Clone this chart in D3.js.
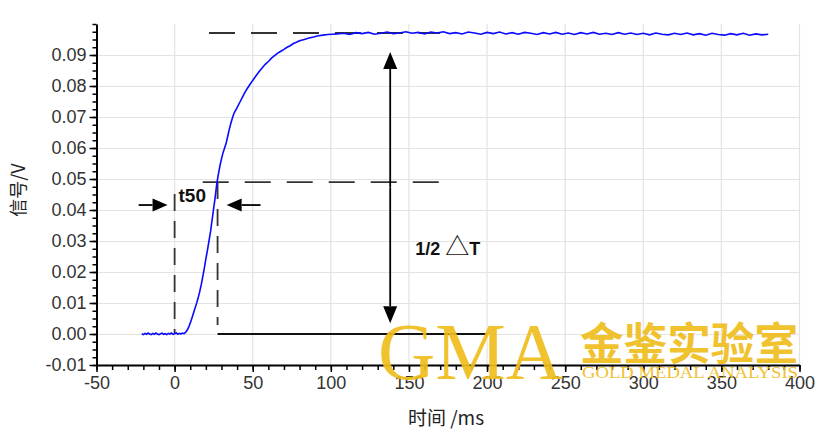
<!DOCTYPE html>
<html>
  <head>
    <meta charset="utf-8">
    <title>t50 response</title>
    <script src="https://cdn.jsdelivr.net/npm/d3@7"></script>
    <style type="text/css">
      body { margin: 0; background: #fff; }
      svg text { font-family: "Liberation Sans", Arial, sans-serif; }
    </style>
  </head>
  <body>
    <script>
    // size of the picture
    var width = 830;
    var height = 434;

    // time in ms and signal in V
    var times = [-21,-20,-19,-18,-17,-16,-15,-14,-13,-12,-11,-10,-9,-8,-7,-6,-5,-4,-3,-2,-1,0,1,2,3,4,5,6,7,
      8,9,10,11,12,13,14,15,16,17,18,19,20,21,22,23,24,25,26,27,28,29,30,31,32,33,34,35,36,37,38,
      40,42,44,46,48,50,52,54,56,58,60,62,64,66,68,70,72,74,76,78,80,83,86,89,92,95,98,101,
      104,108,112,116,120,124,128,132,136,140,144,148,152,156,160,164,168,172,176,180,184,188,192,196,
      200,204,208,212,216,220,224,228,232,236,240,244,248,252,256,260,264,268,272,276,280,284,288,292,296,
      300,304,308,312,316,320,324,328,332,336,340,344,348,352,356,360,364,368,372,376,380];
    var signal = [0.0001,-0.0002,0.0002,-0.0001,0.0003,0.0000,-0.0002,0.0002,-0.0001,0.0003,0.0000,-0.0002,0.0001,0.0003,-0.0001,0.0001,-0.0002,0.0002,0.0000,0.0003,-0.0001,0.0001,0.0004,-0.0001,0.0002,0.0000,0.0003,0.0001,0.0005,
      0.0012,0.0022,0.0035,0.0050,0.0066,0.0082,0.0098,0.0115,0.0135,0.0158,0.0184,0.0212,0.0242,0.0270,0.0300,0.0330,0.0368,0.0405,0.0442,0.0485,0.0515,0.0542,0.0565,0.0585,0.0600,0.0616,0.0638,0.0660,0.0680,0.0697,0.0712,
      0.0730,0.0750,0.0770,0.0788,0.0803,0.0818,0.0832,0.0846,0.0858,0.0870,0.0879,0.0890,0.0898,0.0906,0.0912,0.0918,0.0925,0.0930,0.0937,0.0941,0.0946,0.0950,0.0955,0.0958,0.0962,0.0964,0.0966,0.0967,
      0.0968,0.0970,0.0966,0.0972,0.0969,0.0973,0.0967,0.0970,0.0974,0.0969,0.0971,0.0975,0.0970,0.0973,0.0968,0.0974,0.0971,0.0975,0.0969,0.0972,0.0968,0.0974,0.0971,0.0967,
      0.0973,0.0969,0.0974,0.0968,0.0972,0.0967,0.0973,0.0970,0.0966,0.0972,0.0968,0.0973,0.0967,0.0971,0.0966,0.0972,0.0968,0.0973,0.0967,0.0970,0.0966,0.0972,0.0967,0.0971,0.0966,
      0.0970,0.0965,0.0971,0.0967,0.0965,0.0970,0.0966,0.0971,0.0965,0.0969,0.0964,0.0970,0.0966,0.0964,0.0969,0.0965,0.0970,0.0964,0.0968,0.0965,0.0967];

    // tick values
    var xTicks = [-50,0,50,100,150,200,250,300,350,400];
    var yTicks = [-0.01,0.00,0.01,0.02,0.03,0.04,0.05,0.06,0.07,0.08,0.09];

    // annotation values (data units)
    var plateauV = 0.0971;
    var halfV = 0.049;
    var t50Start = 0;
    var t50End = 27.5;
    var deltaT = 138;

    var xScale = d3.scaleLinear().domain([-50, 400]).range([96.5, 799.5]);
    var yScale = d3.scaleLinear().domain([-0.01, 0.10]).range([365, 24]);

    var svg = d3.select("body").append("svg")
      .attr("width", width)
      .attr("height", height);

    // grid
    svg.append("g").selectAll("line").data(xTicks.slice(1)).enter().append("line")
      .attr("x1", function(d){ return xScale(d); })
      .attr("x2", function(d){ return xScale(d); })
      .attr("y1", yScale(0.10)).attr("y2", yScale(-0.01))
      .attr("stroke", "#e3e3e3").attr("stroke-width", 1.2);
    svg.append("g").selectAll("line").data(yTicks.slice(1)).enter().append("line")
      .attr("x1", xScale(-50)).attr("x2", xScale(400))
      .attr("y1", function(d){ return Math.round(yScale(d)) + 0.5; })
      .attr("y2", function(d){ return Math.round(yScale(d)) + 0.5; })
      .attr("stroke", "#e3e3e3").attr("stroke-width", 1.2);

    // minor ticks
    var xMinor = d3.range(-50, 401, 10);
    var yMinor = d3.range(-0.01, 0.1001, 0.0025);
    svg.append("g")
      .attr("transform", "translate(0," + yScale(-0.01) + ")")
      .call(d3.axisBottom(xScale).tickValues(xMinor).tickSize(5).tickFormat(""))
      .call(function(g){ g.select(".domain").remove(); })
      .selectAll("line").attr("stroke-width", 1.5);
    svg.append("g")
      .attr("transform", "translate(" + xScale(-50) + ",0)")
      .call(d3.axisLeft(yScale).tickValues(yMinor).tickSize(4).tickFormat(""))
      .call(function(g){ g.select(".domain").remove(); })
      .selectAll("line").attr("stroke-width", 1.5);

    // main axes
    var xAxis = svg.append("g")
      .attr("transform", "translate(0," + yScale(-0.01) + ")")
      .call(d3.axisBottom(xScale).tickValues(xTicks).tickSize(7).tickSizeOuter(0).tickPadding(4));
    var yAxis = svg.append("g")
      .attr("transform", "translate(" + xScale(-50) + ",0)")
      .call(d3.axisLeft(yScale).tickValues(yTicks).tickSize(7).tickSizeOuter(0).tickPadding(3)
        .tickFormat(d3.format(".2f")));
    [xAxis, yAxis].forEach(function(a){
      a.select(".domain").attr("stroke", "#000").attr("stroke-width", 2);
      a.selectAll("line").attr("stroke-width", 1.5);
      a.selectAll("text").attr("font-size", 18).attr("fill", "#333")
        .attr("font-family", "Liberation Sans, Arial, sans-serif");
    });
    yAxis.selectAll("text").text(function(d){ return d3.format(".2f")(d).replace("−", "-"); });
    xAxis.selectAll("text").text(function(d){ return String(d); });

    // annotation lines
    var ann = svg.append("g").attr("stroke", "#333").attr("stroke-width", 1.8).attr("fill", "none");
    ann.append("line")
      .attr("x1", xScale(22)).attr("x2", xScale(170))
      .attr("y1", yScale(plateauV)).attr("y2", yScale(plateauV))
      .attr("stroke-dasharray", "26,16");
    ann.append("line")
      .attr("x1", xScale(18)).attr("x2", xScale(178))
      .attr("y1", yScale(halfV)).attr("y2", yScale(halfV))
      .attr("stroke-dasharray", "26,16");
    ann.append("line")
      .attr("x1", xScale(t50Start)).attr("x2", xScale(t50Start))
      .attr("y1", yScale(0.0452)).attr("y2", yScale(0.0003))
      .attr("stroke-dasharray", "17,10");
    ann.append("line")
      .attr("x1", xScale(t50End)).attr("x2", xScale(t50End))
      .attr("y1", yScale(halfV)).attr("y2", yScale(0.0029))
      .attr("stroke-dasharray", "17,10");
    ann.append("line")
      .attr("x1", xScale(t50End)).attr("x2", xScale(200))
      .attr("y1", yScale(0)).attr("y2", yScale(0))
      .attr("stroke", "#111").attr("stroke-width", 2);

    // arrows
    function arrow(x1, y1, x2, y2, len, half) {
      var ang = Math.atan2(y2 - y1, x2 - x1);
      var bx = x2 - len * Math.cos(ang), by = y2 - len * Math.sin(ang);
      svg.append("line").attr("x1", x1).attr("y1", y1).attr("x2", bx).attr("y2", by)
        .attr("stroke", "#000").attr("stroke-width", 1.8);
      svg.append("path")
        .attr("d", "M" + x2 + "," + y2 +
          "L" + (bx + half * Math.sin(ang)) + "," + (by - half * Math.cos(ang)) +
          "L" + (bx - half * Math.sin(ang)) + "," + (by + half * Math.cos(ang)) + "Z")
        .attr("fill", "#000");
    }
    var arrowV = 0.0416;
    arrow(xScale(-23), yScale(arrowV), xScale(-4.5), yScale(arrowV), 15, 6.5);
    arrow(xScale(55), yScale(arrowV), xScale(33.3), yScale(arrowV), 15, 6.5);
    var midY = (yScale(0.091) + yScale(0.0035)) / 2;
    arrow(xScale(deltaT), midY, xScale(deltaT), yScale(0.091), 17, 7);
    arrow(xScale(deltaT), midY, xScale(deltaT), yScale(0.0035), 17, 7);

    // curve
    var line = d3.line()
      .x(function(d){ return xScale(d[0]); })
      .y(function(d){ return yScale(d[1]); });
    svg.append("path")
      .datum(d3.zip(times, signal))
      .attr("d", line)
      .attr("fill", "none")
      .attr("stroke", "#0a0aff")
      .attr("stroke-width", 1.6);

    // annotation text
    svg.append("text").attr("x", xScale(2.5)).attr("y", yScale(0.0426))
      .attr("font-size", 19).attr("font-weight", "bold").attr("fill", "#111").text("t50");
    var dt = svg.append("text").attr("x", xScale(154)).attr("y", yScale(0.0277) + 7)
      .attr("font-size", 18).attr("font-weight", "bold").attr("fill", "#111");
    dt.append("tspan").text("1/2 ");
    dt.append("tspan").style("font-family", "'Noto Sans CJK SC', sans-serif")
      .attr("font-weight", "normal").attr("font-size", 24).text("△");
    dt.append("tspan").text("T");

    // axis titles
    svg.append("text")
      .attr("transform", "translate(25,190) rotate(-90)")
      .attr("text-anchor", "middle")
      .attr("font-size", 18).attr("fill", "#222")
      .style("font-family", "'Noto Sans CJK SC', sans-serif")
      .text("信号/V");
    svg.append("text")
      .attr("x", 446).attr("y", 425)
      .attr("text-anchor", "middle")
      .attr("font-size", 19).attr("fill", "#222")
      .style("font-family", "'Noto Sans CJK SC', sans-serif")
      .text("时间 /ms");

    // watermark
    var wm = svg.append("g").attr("fill", "#EFBD1C").attr("opacity", 0.92);
    wm.append("text").attr("x", 378).attr("y", 379)
      .attr("font-size", 80).style("font-family", "'Liberation Serif', serif")
      .attr("textLength", 185).attr("lengthAdjust", "spacingAndGlyphs")
      .text("GMA");
    wm.append("text").attr("x", 580).attr("y", 360)
      .attr("font-size", 44).style("font-family", "'Noto Sans CJK SC', sans-serif")
      .attr("font-weight", "bold")
      .attr("textLength", 218).attr("lengthAdjust", "spacingAndGlyphs")
      .text("金鉴实验室");
    wm.append("text").attr("x", 582).attr("y", 378)
      .attr("font-size", 17).style("font-family", "'Liberation Serif', serif")
      .attr("textLength", 216).attr("lengthAdjust", "spacingAndGlyphs")
      .text("GOLD MEDAL ANALYSIS");
    </script>
  </body>
</html>
